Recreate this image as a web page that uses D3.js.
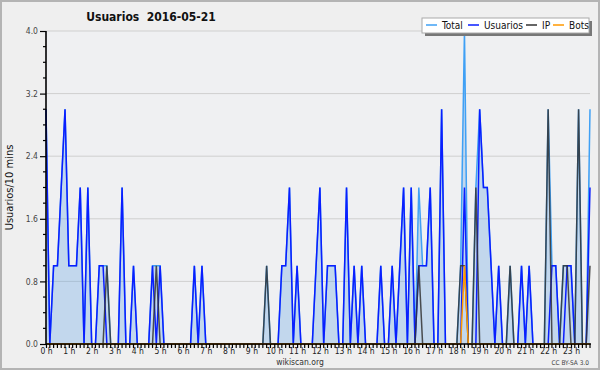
<!DOCTYPE html>
<html>
<head>
<meta charset="utf-8">
<script src="https://cdn.jsdelivr.net/npm/d3@7"></script>
<style>
  body { margin: 0; background: #efefef; }
  svg { display: block; }
  text { font-family: "DejaVu Sans Condensed", "DejaVu Sans", sans-serif; }
</style>
</head>
<body>
<script>
// one value per 10 minutes, 144 slots (0 h .. 23 h 50)
var total = [
  3,0,1,1,2,3,1,1,1,2,0,2,
  0,0,1,1,1,0,0,0,2,0,0,1,
  0,0,0,0,1,1,1,0,0,0,0,0,
  0,0,0,1,0,1,0,0,0,0,0,0,
  0,0,0,0,0,0,0,0,0,0,1,0,
  0,0,1,1,2,0,1,0,0,0,0,1,
  2,0,1,1,1,0,0,2,0,1,0,1,
  0,0,0,0,1,0,0,1,0,1,2,0,
  2,0,2,1,1,2,0,0,3,0,0,0,
  0,1,4,0,0,2,3,2,2,1,0,1,
  0,0,1,0,0,1,0,1,0,0,0,0,
  3,1,1,0,1,1,1,0,3,0,0,3];
var usuarios = [
  3,0,1,1,2,3,1,1,1,2,0,2,
  0,0,1,1,0,0,0,0,2,0,0,1,
  0,0,0,0,1,0,1,0,0,0,0,0,
  0,0,0,1,0,1,0,0,0,0,0,0,
  0,0,0,0,0,0,0,0,0,0,0,0,
  0,0,1,1,2,0,1,0,0,0,0,1,
  2,0,1,1,1,0,0,2,0,1,0,1,
  0,0,0,0,1,0,0,1,0,1,2,0,
  2,0,1,1,1,2,0,0,3,0,0,0,
  0,0,2,0,0,0,3,2,2,1,0,1,
  0,0,0,0,0,1,0,1,0,0,0,0,
  0,1,1,0,0,1,1,0,0,0,0,2];
var ip = [
  0,0,0,0,0,0,0,0,0,0,0,0,
  0,0,0,0,1,0,0,0,0,0,0,0,
  0,0,0,0,0,1,0,0,0,0,0,0,
  0,0,0,0,0,0,0,0,0,0,0,0,
  0,0,0,0,0,0,0,0,0,0,1,0,
  0,0,0,0,0,0,0,0,0,0,0,0,
  0,0,0,0,0,0,0,0,0,0,0,0,
  0,0,0,0,0,0,0,0,0,0,0,0,
  0,0,1,0,0,0,0,0,0,0,0,0,
  0,1,1,0,0,2,0,0,0,0,0,0,
  0,0,1,0,0,0,0,0,0,0,0,0,
  3,0,0,0,1,1,0,0,3,0,0,1];
var bots = [
  0,0,0,0,0,0,0,0,0,0,0,0,
  0,0,0,0,0,0,0,0,0,0,0,0,
  0,0,0,0,0,0,0,0,0,0,0,0,
  0,0,0,0,0,0,0,0,0,0,0,0,
  0,0,0,0,0,0,0,0,0,0,0,0,
  0,0,0,0,0,0,0,0,0,0,0,0,
  0,0,0,0,0,0,0,0,0,0,0,0,
  0,0,0,0,0,0,0,0,0,0,0,0,
  0,0,0,0,0,0,0,0,0,0,0,0,
  0,0,1,0,0,0,0,0,0,0,0,0,
  0,0,0,0,0,0,0,0,0,0,0,0,
  0,0,0,0,0,0,0,0,0,0,0,0];
var yTicks = [0, 0.8, 1.6, 2.4, 3.2, 4.0];
var hours = d3.range(24);
var seriesNames = ["Total", "Usuarios", "IP", "Bots"];
var seriesColors = ["#3fa0f5", "#0a1eff", "#333333", "#ff9900"];

var W = 600, H = 370;
var x = d3.scaleLinear().domain([0, 143]).range([46, 590]);
var y = d3.scaleLinear().domain([0, 4]).range([344, 31]);

var svg = d3.select("body").append("svg")
    .attr("width", W)
    .attr("height", H);

// frame
svg.append("rect")
    .attr("x", 1).attr("y", 1)
    .attr("width", W - 2).attr("height", H - 2)
    .attr("fill", "#efefef")
    .attr("stroke", "#b4b4b4")
    .attr("stroke-width", 2);

svg.append("rect")
    .attr("x", x(0)).attr("y", y(4))
    .attr("width", x(143) - x(0)).attr("height", y(0) - y(4))
    .attr("fill", "#eff0f2");

// grid
svg.selectAll(".grid")
    .data(yTicks.slice(1))
    .enter().append("line")
    .attr("class", "grid")
    .attr("x1", x(0)).attr("x2", x(143))
    .attr("y1", function(d) { return y(d); })
    .attr("y2", function(d) { return y(d); })
    .attr("stroke", "#cfcfcf")
    .attr("stroke-width", 1);

// area of the total
var area = d3.area()
    .x(function(d, i) { return x(i); })
    .y0(y(0))
    .y1(function(d) { return y(d); });

svg.append("path")
    .attr("d", area(total))
    .attr("fill", "#5aa0e0")
    .attr("fill-opacity", 0.3);

var line = d3.line()
    .x(function(d, i) { return x(i); })
    .y(function(d) { return y(d); });

[total, usuarios, ip, bots].forEach(function(s, k) {
    svg.append("path")
        .attr("d", line(s))
        .attr("fill", "none")
        .attr("stroke", seriesColors[k])
        .attr("stroke-width", 1.5)
        .attr("stroke-opacity", k == 2 ? 0.85 : 1);
});

// Y axis
var yAxis = d3.axisLeft(y)
    .tickValues(yTicks)
    .tickFormat(d3.format(".1f"))
    .tickSize(6)
    .tickPadding(2);

var gy = svg.append("g")
    .attr("transform", "translate(" + x(0) + ",0)")
    .call(yAxis);
gy.select(".domain").remove();
gy.selectAll(".tick line").attr("stroke", "#000").attr("stroke-width", 1.2);
gy.selectAll(".tick text")
    .attr("font-family", "DejaVu Sans Condensed, DejaVu Sans")
    .attr("font-size", 8.5)
    .attr("fill", "#444");

svg.append("g").selectAll("line")
    .data(d3.range(0, 20).filter(function(d) { return d % 4 != 0; }))
    .enter().append("line")
    .attr("x1", x(0) - 3).attr("x2", x(0))
    .attr("y1", function(d) { return y(d * 0.2); })
    .attr("y2", function(d) { return y(d * 0.2); })
    .attr("stroke", "#000")
    .attr("stroke-width", 1.2);

svg.append("line")
    .attr("x1", x(0)).attr("x2", x(0))
    .attr("y1", y(4)).attr("y2", y(0) + 1)
    .attr("stroke", "#000")
    .attr("stroke-width", 1.6);

// X axis
var xAxis = d3.axisBottom(x)
    .tickValues(hours.map(function(h) { return h * 6; }))
    .tickFormat(function(d) { return (d / 6) + " h"; })
    .tickSize(4)
    .tickPadding(0);

var gx = svg.append("g")
    .attr("transform", "translate(0," + y(0) + ")")
    .call(xAxis);
gx.select(".domain").remove();
gx.selectAll(".tick line").attr("stroke", "#000").attr("stroke-width", 1.2);
gx.selectAll(".tick text")
    .attr("y", 4)
    .attr("font-family", "DejaVu Sans Condensed, DejaVu Sans")
    .attr("font-size", 8.5)
    .attr("fill", "#222");

svg.append("g").selectAll("line")
    .data(d3.range(0, 144).filter(function(d) { return d % 6 != 0; }))
    .enter().append("line")
    .attr("x1", function(d) { return x(d); })
    .attr("x2", function(d) { return x(d); })
    .attr("y1", y(0)).attr("y2", y(0) + 4)
    .attr("stroke", "#000")
    .attr("stroke-width", 1.2);

svg.append("line")
    .attr("x1", x(0)).attr("x2", x(143) + 1)
    .attr("y1", y(0)).attr("y2", y(0))
    .attr("stroke", "#000")
    .attr("stroke-width", 1.6);

// title and labels
svg.append("text")
    .attr("x", 151).attr("y", 21)
    .attr("text-anchor", "middle")
    .attr("font-size", 12)
    .attr("font-weight", "bold")
    .attr("fill", "#111")
    .style("white-space", "pre")
    .text("Usuarios  2016-05-21");

svg.append("text")
    .attr("transform", "translate(13," + ((y(0) + y(4)) / 2) + ") rotate(-90)")
    .attr("text-anchor", "middle")
    .attr("font-family", "DejaVu Sans Mono, monospace")
    .attr("font-size", 11)
    .attr("fill", "#111")
    .text("Usuarios/10 mins");

svg.append("text")
    .attr("x", 300).attr("y", 365)
    .attr("text-anchor", "middle")
    .attr("font-size", 8.5)
    .attr("fill", "#333")
    .text("wikiscan.org");

svg.append("text")
    .attr("x", 589).attr("y", 365)
    .attr("text-anchor", "end")
    .attr("font-size", 6.5)
    .attr("fill", "#444")
    .text("CC BY-SA 3.0");

// legend
var legend = svg.append("g");
legend.append("rect")
    .attr("x", 425).attr("y", 21)
    .attr("width", 167).attr("height", 15)
    .attr("fill", "#777");
legend.append("rect")
    .attr("x", 422).attr("y", 18)
    .attr("width", 167).attr("height", 15)
    .attr("fill", "#fff")
    .attr("stroke", "#aaa")
    .attr("stroke-width", 1);

var legendX = [426, 468, 526, 553];
seriesNames.forEach(function(name, k) {
    legend.append("line")
        .attr("x1", legendX[k]).attr("x2", legendX[k] + 11)
        .attr("y1", 25).attr("y2", 25)
        .attr("stroke", seriesColors[k])
        .attr("stroke-width", 1.5);
    legend.append("text")
        .attr("x", legendX[k] + 16).attr("y", 29)
        .attr("font-size", 10)
        .attr("fill", "#111")
        .text(name);
});
</script>
</body>
</html>
